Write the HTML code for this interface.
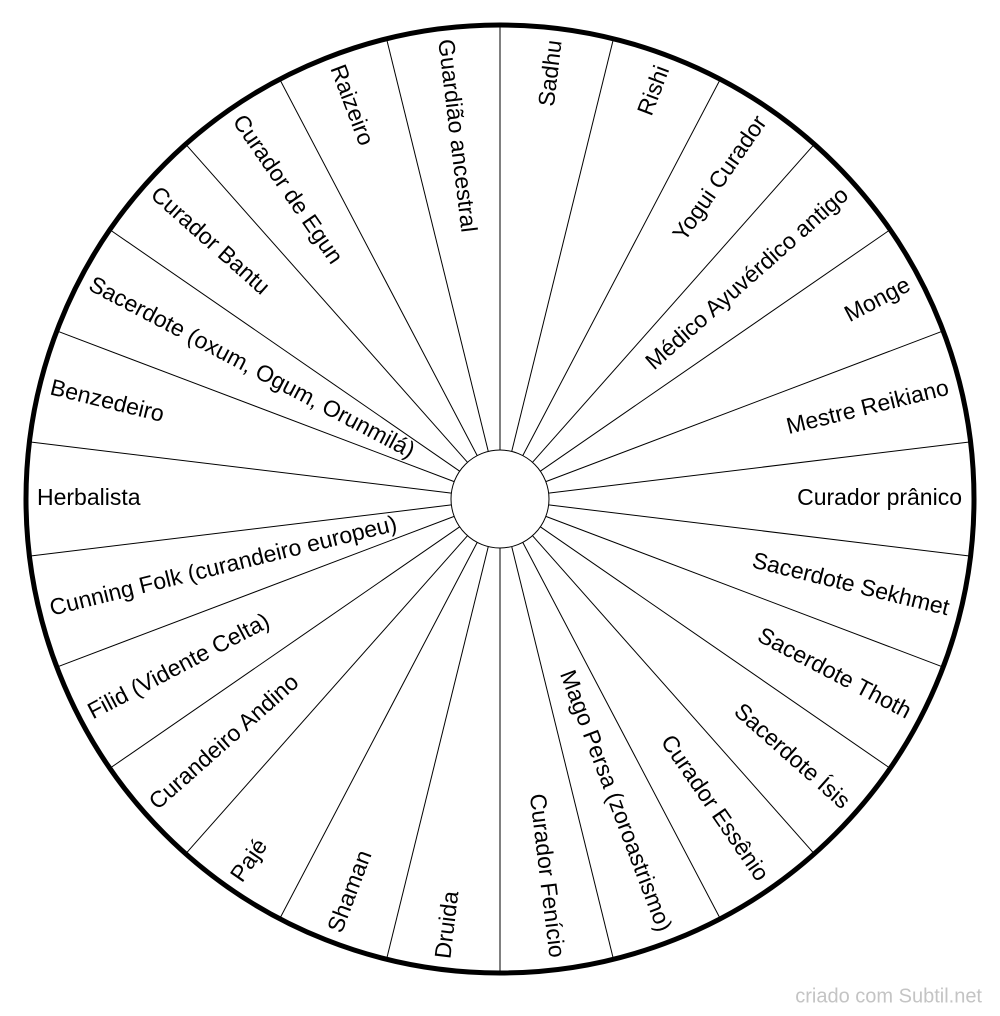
<!DOCTYPE html>
<html><head><meta charset="utf-8"><style>
html,body{margin:0;padding:0;background:#fff;}
svg{display:block;}
text{font-family:"Liberation Sans",Arial,sans-serif;font-size:23px;fill:#000;dominant-baseline:middle;}
</style></head><body>
<svg width="1000" height="1016" viewBox="0 0 1000 1016" xmlns="http://www.w3.org/2000/svg">
<g stroke="#000" stroke-width="1">
<line x1="500" y1="450" x2="500" y2="23" transform="rotate(0 500 499)"/>
<line x1="500" y1="450" x2="500" y2="23" transform="rotate(13.846 500 499)"/>
<line x1="500" y1="450" x2="500" y2="23" transform="rotate(27.692 500 499)"/>
<line x1="500" y1="450" x2="500" y2="23" transform="rotate(41.538 500 499)"/>
<line x1="500" y1="450" x2="500" y2="23" transform="rotate(55.385 500 499)"/>
<line x1="500" y1="450" x2="500" y2="23" transform="rotate(69.231 500 499)"/>
<line x1="500" y1="450" x2="500" y2="23" transform="rotate(83.077 500 499)"/>
<line x1="500" y1="450" x2="500" y2="23" transform="rotate(96.923 500 499)"/>
<line x1="500" y1="450" x2="500" y2="23" transform="rotate(110.769 500 499)"/>
<line x1="500" y1="450" x2="500" y2="23" transform="rotate(124.615 500 499)"/>
<line x1="500" y1="450" x2="500" y2="23" transform="rotate(138.462 500 499)"/>
<line x1="500" y1="450" x2="500" y2="23" transform="rotate(152.308 500 499)"/>
<line x1="500" y1="450" x2="500" y2="23" transform="rotate(166.154 500 499)"/>
<line x1="500" y1="450" x2="500" y2="23" transform="rotate(180 500 499)"/>
<line x1="500" y1="450" x2="500" y2="23" transform="rotate(193.846 500 499)"/>
<line x1="500" y1="450" x2="500" y2="23" transform="rotate(207.692 500 499)"/>
<line x1="500" y1="450" x2="500" y2="23" transform="rotate(221.538 500 499)"/>
<line x1="500" y1="450" x2="500" y2="23" transform="rotate(235.385 500 499)"/>
<line x1="500" y1="450" x2="500" y2="23" transform="rotate(249.231 500 499)"/>
<line x1="500" y1="450" x2="500" y2="23" transform="rotate(263.077 500 499)"/>
<line x1="500" y1="450" x2="500" y2="23" transform="rotate(276.923 500 499)"/>
<line x1="500" y1="450" x2="500" y2="23" transform="rotate(290.769 500 499)"/>
<line x1="500" y1="450" x2="500" y2="23" transform="rotate(304.615 500 499)"/>
<line x1="500" y1="450" x2="500" y2="23" transform="rotate(318.462 500 499)"/>
<line x1="500" y1="450" x2="500" y2="23" transform="rotate(332.308 500 499)"/>
<line x1="500" y1="450" x2="500" y2="23" transform="rotate(346.154 500 499)"/>
</g>
<circle cx="500" cy="499" r="474" fill="none" stroke="#000" stroke-width="5"/>
<circle cx="500" cy="499" r="49" fill="#fff" stroke="#000" stroke-width="1"/>
<g text-anchor="end">
<text x="962" y="499" transform="rotate(-83.077 500 499)">Sadhu</text>
<text x="962" y="499" transform="rotate(-69.231 500 499)">Rishi</text>
<text x="962" y="499" transform="rotate(-55.385 500 499)">Yogui Curador</text>
<text x="962" y="499" transform="rotate(-41.538 500 499)">Médico Ayuvérdico antigo</text>
<text x="962" y="499" transform="rotate(-27.692 500 499)">Monge</text>
<text x="962" y="499" transform="rotate(-13.846 500 499)">Mestre Reikiano</text>
<text x="962" y="499">Curador prânico</text>
<text x="962" y="499" transform="rotate(13.846 500 499)">Sacerdote Sekhmet</text>
<text x="962" y="499" transform="rotate(27.692 500 499)">Sacerdote Thoth</text>
<text x="962" y="499" transform="rotate(41.538 500 499)">Sacerdote Ísis</text>
<text x="962" y="499" transform="rotate(55.385 500 499)">Curador Essênio</text>
<text x="962" y="499" transform="rotate(69.231 500 499)">Mago Persa (zoroastrismo)</text>
<text x="962" y="499" transform="rotate(83.077 500 499)">Curador Fenício</text>
</g>
<g text-anchor="start">
<text x="37" y="499" transform="rotate(-83.077 500 499)">Druida</text>
<text x="37" y="499" transform="rotate(-69.231 500 499)">Shaman</text>
<text x="37" y="499" transform="rotate(-55.385 500 499)">Pajé</text>
<text x="37" y="499" transform="rotate(-41.538 500 499)">Curandeiro Andino</text>
<text x="37" y="499" transform="rotate(-27.692 500 499)">Filid (Vidente Celta)</text>
<text x="37" y="499" transform="rotate(-13.846 500 499)">Cunning Folk (curandeiro europeu)</text>
<text x="37" y="499">Herbalista</text>
<text x="37" y="499" transform="rotate(13.846 500 499)">Benzedeiro</text>
<text x="37" y="499" transform="rotate(27.692 500 499)">Sacerdote (oxum, Ogum, Orunmilá)</text>
<text x="37" y="499" transform="rotate(41.538 500 499)">Curador Bantu</text>
<text x="37" y="499" transform="rotate(55.385 500 499)">Curador de Egun</text>
<text x="37" y="499" transform="rotate(69.231 500 499)">Raizeiro</text>
<text x="37" y="499" transform="rotate(83.077 500 499)">Guardião ancestral</text>
</g>
<text x="982" y="997" text-anchor="end" style="font-size:20px;fill:#c4c4c4;">criado com Subtil.net</text>
</svg>
</body></html>
